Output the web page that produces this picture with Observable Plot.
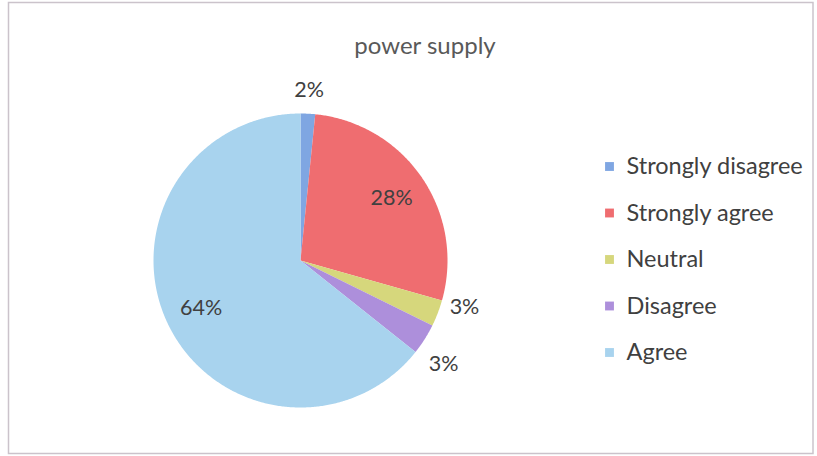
<!DOCTYPE html>
<html>
<head>
<meta charset="utf-8">
<script src="https://cdn.jsdelivr.net/npm/d3@7"></script>
<script src="https://cdn.jsdelivr.net/npm/@observablehq/plot@0.6"></script>
<style>
  html, body { margin: 0; padding: 0; background: #fff; }
  #chart { width: 817px; height: 456px; }
</style>
</head>
<body>
<div id="chart"></div>
<script>
// ---- data ----
const title = "power supply";
const categories = ["Strongly disagree", "Strongly agree", "Neutral", "Disagree", "Agree"];
const values = [1.6, 27.8, 2.9, 3.4, 64.3];
const colors = ["#7fa6e2", "#ef6d70", "#d6d77c", "#ad8fdb", "#a8d3ee"];
const labelInside = [false, true, false, false, true];

// ---- layout (pixels) ----
const W = 817, H = 456;
const cx = 300, cy = 260, R = 147;

// scales in pie-radius units
const xDom = [-cx / R, (W - cx) / R];
const yDom = [-(H - cy) / R, cy / R];

const pie = d3.pie().sort(null).value(d => d.value);
const rows = categories.map((c, i) => ({key: c, value: values[i], color: colors[i], inside: labelInside[i]}));
const arcs = pie(rows);

// slice polygons
const poly = [];
arcs.forEach(a => {
  const k = a.data.key;
  poly.push({key: k, x: 0, y: 0});
  const n = Math.max(2, Math.ceil((a.endAngle - a.startAngle) / (Math.PI / 360)));
  for (let j = 0; j <= n; j++) {
    const t = a.startAngle + (a.endAngle - a.startAngle) * j / n;
    poly.push({key: k, x: Math.sin(t), y: Math.cos(t)});
  }
  poly.push({key: k, x: 0, y: 0});
});

// labels
const labels = arcs.map((a, i) => {
  const m = (a.startAngle + a.endAngle) / 2;
  const r = a.data.inside ? 0.75 : 1.16 + (i === 3 ? 0.04 : 0);
  const ang = m + (i === 2 ? -0.09 : i === 3 ? 0.06 : 0);
  return {x: r * Math.sin(ang), y: r * Math.cos(ang), text: Math.round(a.data.value) + "%"};
});

// legend
const lgX = (609 - cx) / R;
const lgY0 = (cy - 166) / R, lgStep = 46.5 / R;
const legend = categories.map((c, i) => ({key: c, color: colors[i], x: lgX, y: lgY0 - i * lgStep}));

const font = "Lato, 'Open Sans', sans-serif";

const plot = Plot.plot({
  width: W, height: H,
  margin: 0,
  style: {background: "#fff", fontFamily: font},
  x: {domain: xDom, axis: null},
  y: {domain: yDom, axis: null},
  color: {domain: categories, range: colors},
  marks: [
    Plot.line(poly, {x: "x", y: "y", z: "key", fill: "key", stroke: "none", curve: "linear"}),
    Plot.text(labels, {x: "x", y: "y", text: "text", fontSize: 21.5, fill: "#404040"}),
    Plot.dot(legend, {x: "x", y: "y", symbol: "square", r: 5, fill: "color", stroke: "none"}),
    Plot.text(legend, {x: "x", y: "y", text: "key", dx: 17, textAnchor: "start", fontSize: 23.5, fill: "#404040"}),
    Plot.text([title], {frameAnchor: "top", dx: 16, dy: 36, fontSize: 24, fill: "#595959"}),
    Plot.frame({stroke: "#cbc3cb", strokeWidth: 1.5, insetLeft: 8, insetRight: 4.5, insetTop: 2, insetBottom: 3})
  ]
});
document.getElementById("chart").appendChild(plot);
</script>
</body>
</html>
